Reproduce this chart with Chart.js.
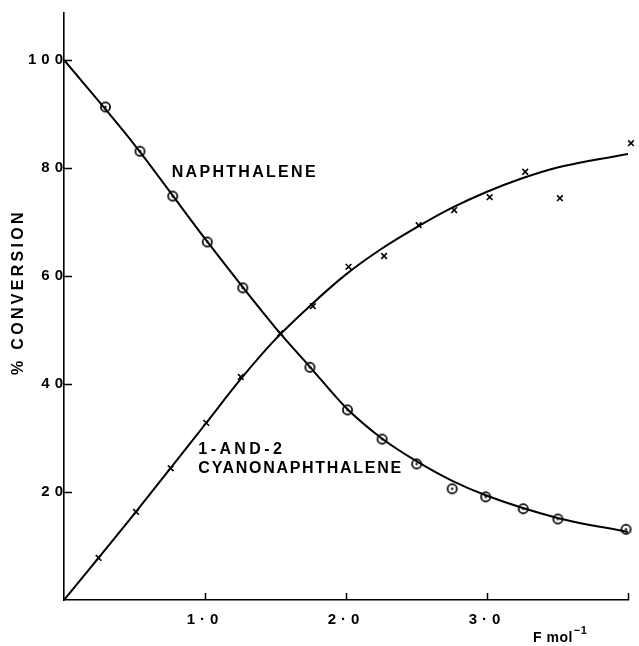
<!DOCTYPE html>
<html>
<head>
<meta charset="utf-8">
<script src="https://cdn.jsdelivr.net/npm/chart.js@4/dist/chart.umd.min.js"></script>
<style>
html,body{margin:0;padding:0;background:#fff;}
#wrap{width:639px;height:646px;}
</style>
</head>
<body>
<div id="wrap"><canvas id="c" width="639" height="646"></canvas></div>
<script>
// ---- data ----
const naphX = [0.294, 0.539, 0.771, 1.016, 1.268, 1.744, 2.011, 2.256, 2.501, 2.753, 2.991, 3.257, 3.503, 3.986];
const naphY = [91.3, 83.1, 74.8, 66.3, 57.8, 43.1, 35.2, 29.8, 25.2, 20.6, 19.1, 16.9, 15.0, 13.1];

const cyanoX = [0.245, 0.511, 0.757, 1.009, 1.254, 1.534, 1.765, 2.018, 2.270, 2.515, 2.767, 3.019, 3.271, 3.517, 4.021];
const cyanoY = [7.8, 16.3, 24.4, 32.8, 41.3, 49.4, 54.4, 61.7, 63.7, 69.4, 72.2, 74.6, 79.3, 74.4, 84.6];

const naphCurveX = [0, 0.5, 1.0, 1.5, 1.75, 2.0, 2.25, 2.5, 2.75, 3.0, 3.5, 4.0];
const naphCurveY = [100, 84.3, 66.9, 50.4, 43.0, 35.6, 30.0, 25.7, 22.1, 19.3, 15.2, 12.6];

const cyanoCurveX = [0, 0.5, 1.0, 1.25, 1.5, 1.75, 2.0, 2.25, 2.5, 2.75, 3.0, 3.25, 3.5, 4.0];
const cyanoCurveY = [0, 16.0, 32.5, 40.8, 48.3, 54.6, 60.3, 65.0, 69.0, 72.6, 75.6, 78.1, 80.1, 82.6];

const xTickValues = [1, 2, 3, 4];
const xTickLabels = ['1·0', '2·0', '3·0', ''];
const yTickValues = [20, 40, 60, 80, 100];
const yTickLabels = ['20', '40', '60', '80', '100'];

const yTitle = '% CONVERSION';
const xTitle = 'F mol';
const xTitleSup = '−1';
const annotations = [
  {text: 'NAPHTHALENE', x: 0.764, y: 79.1, spacing: 2.3},
  {text: '1-AND-2', x: 0.953, y: 27.8, spacing: 3.4},
  {text: 'CYANONAPHTHALENE', x: 0.953, y: 24.4, spacing: 1.7}
];

// ---- styling helpers ----
const FONT = "'Liberation Sans', Arial, sans-serif";
function makeCircleDot() {
  const c = document.createElement('canvas');
  c.width = 13; c.height = 13;
  const g = c.getContext('2d');
  g.fillStyle = '#fff';
  g.beginPath(); g.arc(6.5, 6.5, 4.6, 0, Math.PI * 2); g.fill();
  g.lineWidth = 1.7; g.strokeStyle = '#000'; g.stroke();
  g.fillStyle = '#000';
  g.beginPath(); g.arc(6.5, 6.5, 1.2, 0, Math.PI * 2); g.fill();
  return c;
}
const circleDot = makeCircleDot();
const pts = (xs, ys) => xs.map((x, i) => ({x: x, y: ys[i]}));

const decorPlugin = {
  id: 'decor',
  beforeDraw(chart) {
    chart.ctx.letterSpacing = '5px';
  },
  afterDraw(chart) {
    const ctx = chart.ctx;
    const xs = chart.scales.x, ys = chart.scales.y;
    const area = chart.chartArea;
    ctx.save();
    // inward tick marks
    ctx.strokeStyle = '#000';
    ctx.lineWidth = 1.5;
    ctx.beginPath();
    yTickValues.forEach(v => {
      const py = Math.round(ys.getPixelForValue(v)) + 0.5;
      ctx.moveTo(area.left, py); ctx.lineTo(area.left + 8, py);
    });
    xTickValues.forEach(v => {
      const px = Math.round(xs.getPixelForValue(v)) + 0.5;
      ctx.moveTo(px, area.bottom); ctx.lineTo(px, area.bottom - 7);
    });
    ctx.stroke();

    ctx.fillStyle = '#000';
    // annotations
    ctx.textAlign = 'left';
    ctx.textBaseline = 'middle';
    ctx.font = 'bold 16px ' + FONT;
    annotations.forEach(a => {
      ctx.letterSpacing = a.spacing + 'px';
      ctx.fillText(a.text, xs.getPixelForValue(a.x), ys.getPixelForValue(a.y));
    });

    // y title
    ctx.save();
    ctx.translate(19, 294);
    ctx.rotate(-Math.PI / 2);
    ctx.letterSpacing = '3.3px';
    ctx.textAlign = 'center';
    ctx.textBaseline = 'middle';
    ctx.font = 'bold 16px ' + FONT;
    ctx.fillText(yTitle, 2, 0);
    ctx.restore();

    // x title
    ctx.letterSpacing = '0.5px';
    ctx.textAlign = 'left';
    ctx.textBaseline = 'middle';
    ctx.font = 'bold 14px ' + FONT;
    ctx.fillText(xTitle, 533, 638);
    const w = ctx.measureText(xTitle).width;
    ctx.font = 'bold 11px ' + FONT;
    ctx.fillText(xTitleSup, 533 + w + 1, 631);
    ctx.restore();
    ctx.letterSpacing = '0px';
  }
};

new Chart(document.getElementById('c'), {
  type: 'scatter',
  data: {
    datasets: [
      {
        label: 'Naphthalene curve',
        data: pts(naphCurveX, naphCurveY),
        showLine: true, borderColor: '#000', borderWidth: 2,
        pointRadius: 0, cubicInterpolationMode: 'monotone', fill: false
      },
      {
        label: 'Cyanonaphthalene curve',
        data: pts(cyanoCurveX, cyanoCurveY),
        showLine: true, borderColor: '#000', borderWidth: 2,
        pointRadius: 0, cubicInterpolationMode: 'monotone', fill: false
      },
      {
        label: 'Naphthalene',
        data: pts(naphX, naphY),
        showLine: false, pointStyle: circleDot, pointRadius: 6,
        borderColor: '#000', clip: false
      },
      {
        label: '1- and 2-Cyanonaphthalene',
        data: pts(cyanoX, cyanoY),
        showLine: false, pointStyle: 'crossRot', pointRadius: 4,
        borderColor: '#000', borderWidth: 1.6, clip: false
      }
    ]
  },
  options: {
    responsive: false,
    animation: false,
    devicePixelRatio: 1,
    layout: {padding: {left: 0, top: 13, right: 4, bottom: 0}},
    plugins: {legend: {display: false}, tooltip: {enabled: false}},
    scales: {
      x: {
        type: 'linear', position: 'bottom', min: 0, max: 4,
        afterFit: s => { s.height = 46; },
        afterBuildTicks: s => { s.ticks = xTickValues.map(v => ({value: v})); },
        grid: {display: true, drawOnChartArea: false, drawTicks: false},
        border: {display: true, color: '#000', width: 1.6},
        ticks: {
          color: '#000', font: {family: FONT, size: 15, weight: 'bold'}, padding: 11,
          maxRotation: 0, autoSkip: false,
          callback: v => { const i = xTickValues.indexOf(v); return i >= 0 ? xTickLabels[i] : ''; }
        }
      },
      y: {
        type: 'linear', position: 'left', min: 0, max: 108.7,
        afterFit: s => { s.width = 64; },
        afterBuildTicks: s => { s.ticks = yTickValues.map(v => ({value: v})); },
        grid: {display: true, drawOnChartArea: false, drawTicks: false},
        border: {display: true, color: '#000', width: 1.6},
        ticks: {
          color: '#000', font: {family: FONT, size: 15, weight: 'bold'}, padding: -4,
          autoSkip: false,
          callback: v => { const i = yTickValues.indexOf(v); return i >= 0 ? yTickLabels[i] : ''; }
        }
      }
    }
  },
  plugins: [decorPlugin]
});
</script>
</body>
</html>
